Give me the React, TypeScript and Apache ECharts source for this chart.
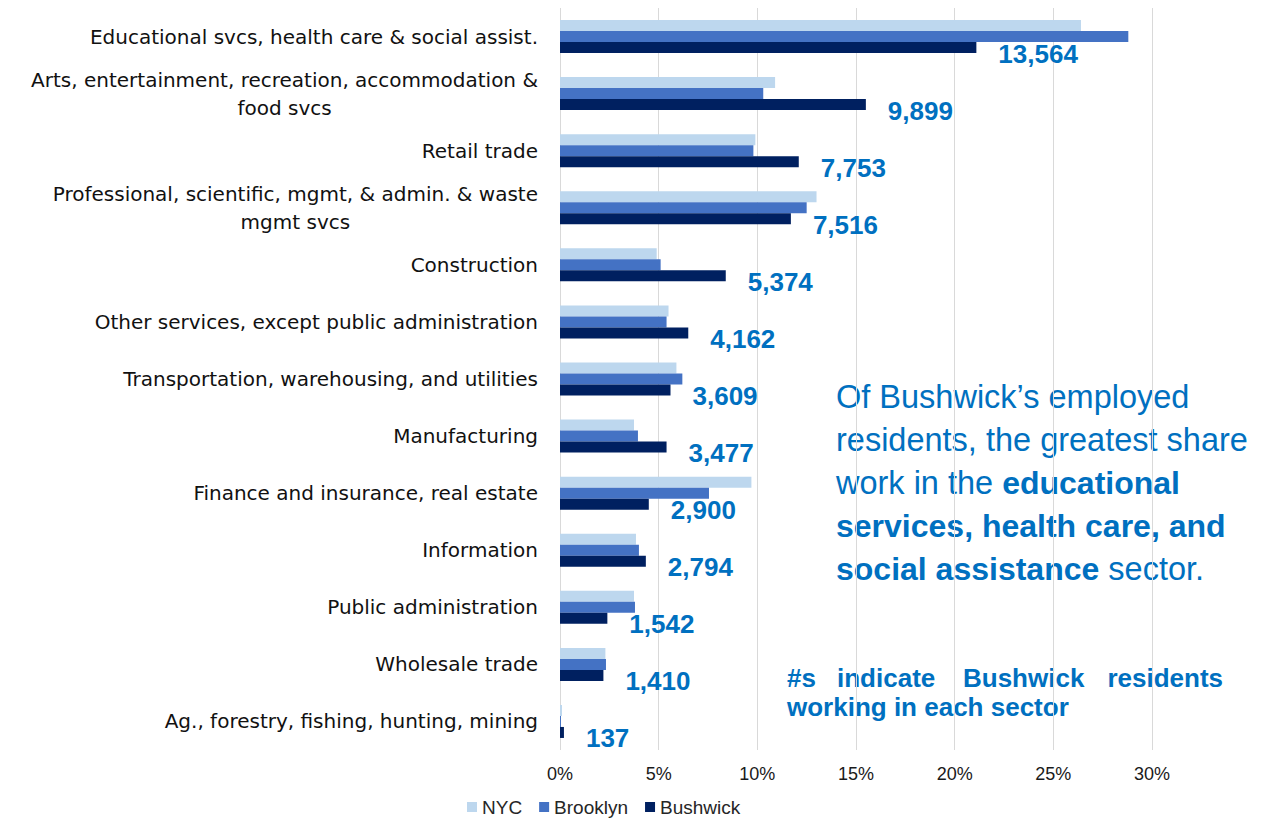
import React, { useEffect, useRef } from "react";
import * as echarts from "echarts";

const categories = [
  "Educational svcs, health care & social assist.",
  "Arts, entertainment, recreation, accommodation &\nfood svcs",
  "Retail trade",
  "Professional, scientific, mgmt, & admin. & waste\nmgmt svcs",
  "Construction",
  "Other services, except public administration",
  "Transportation, warehousing, and utilities",
  "Manufacturing",
  "Finance and insurance, real estate",
  "Information",
  "Public administration",
  "Wholesale trade",
  "Ag., forestry, fishing, hunting, mining",
];

const nycShare = [26.4, 10.9, 9.9, 13.0, 4.9, 5.5, 5.9, 3.75, 9.7, 3.85, 3.75, 2.3, 0.1];
const brooklynShare = [28.8, 10.3, 9.8, 12.5, 5.1, 5.4, 6.2, 3.95, 7.55, 4.0, 3.8, 2.33, 0.05];
const bushwickShare = [21.1, 15.5, 12.1, 11.7, 8.4, 6.5, 5.6, 5.4, 4.5, 4.35, 2.4, 2.2, 0.2];
const bushwickCounts = [13564, 9899, 7753, 7516, 5374, 4162, 3609, 3477, 2900, 2794, 1542, 1410, 137];

const seriesNames = ["NYC", "Brooklyn", "Bushwick"];
const xTicks = { min: 0, max: 30, interval: 5 };

const FONT = "'Liberation Sans', Arial, sans-serif";
const CAT_FONT = "'DejaVu Sans', 'Liberation Sans', sans-serif";
const BLUE = "#0070C0";

export default function App() {
  const ref = useRef<HTMLDivElement>(null);
  useEffect(() => {
    if (!ref.current) return;
    const chart = echarts.init(ref.current, undefined, { renderer: "svg" });
    const fmtCount = (n: number) => n.toLocaleString("en-US");
    const noteStyle = (text: string, align: string) => ({
      text,
      fill: BLUE,
      fontSize: 26,
      fontWeight: "bold",
      fontFamily: FONT,
      verticalAlign: "middle",
      align,
    });
    chart.setOption({
      animation: false,
      textStyle: { fontFamily: FONT },
      grid: { left: 560, right: 109, top: 8, bottom: 72, containLabel: false },
      legend: {
        data: seriesNames,
        left: 467,
        top: 797,
        padding: 0,
        icon: "rect",
        itemWidth: 10,
        itemHeight: 10,
        itemGap: 17,
        textStyle: { fontSize: 19, lineHeight: 20, color: "#262626", fontFamily: FONT },
      },
      xAxis: {
        type: "value",
        min: xTicks.min,
        max: xTicks.max,
        interval: xTicks.interval,
        axisLine: { show: false },
        axisTick: { show: false },
        splitLine: { show: true, lineStyle: { color: "#D9D9D9", width: 1 } },
        axisLabel: {
          formatter: "{value}%",
          fontSize: 18,
          color: "#1a1a1a",
          margin: 15,
          fontFamily: FONT,
        },
      },
      yAxis: {
        type: "category",
        inverse: true,
        data: categories,
        axisLine: { show: false },
        axisTick: { show: false },
        axisLabel: {
          fontSize: 20,
          color: "#111111",
          margin: 22,
          lineHeight: 28,
          fontFamily: CAT_FONT,
          formatter: (v: string) => {
            const parts = v.split("\n");
            if (parts.length === 1) return v;
            return parts[0] + "\n{c|" + parts[1] + "}";
          },
          rich: {
            c: { align: "center", fontSize: 20, lineHeight: 28, color: "#111111", fontFamily: CAT_FONT },
          },
        },
      },
      series: [
        {
          name: seriesNames[0],
          type: "bar",
          data: nycShare,
          barWidth: 11,
          barGap: "0%",
          itemStyle: { color: "#BDD7EE" },
        },
        {
          name: seriesNames[1],
          type: "bar",
          data: brooklynShare,
          barWidth: 11,
          barGap: "0%",
          itemStyle: { color: "#4472C4" },
        },
        {
          name: seriesNames[2],
          type: "bar",
          data: bushwickShare,
          barWidth: 11,
          barGap: "0%",
          itemStyle: { color: "#002060" },
          label: {
            show: true,
            position: "right",
            distance: 22,
            offset: [0, 6],
            fontSize: 26,
            fontWeight: "bold",
            color: BLUE,
            fontFamily: FONT,
            formatter: (p: any) => fmtCount(bushwickCounts[p.dataIndex]),
          },
        },
      ],
      graphic: [
        {
          type: "text",
          left: 836,
          top: 375,
          style: {
            text:
              "Of Bushwick’s employed\nresidents, the greatest share\nwork in the {b|educational}\n{b|services, health care, and}\n{b|social assistance} sector.",
            fill: BLUE,
            fontSize: 32.5,
            fontFamily: FONT,
            lineHeight: 43,
            rich: {
              b: { fontWeight: "bold", fontSize: 32, fill: BLUE, fontFamily: FONT, lineHeight: 43 },
            },
          },
        },
        { type: "text", x: 787, y: 678, style: noteStyle("#s", "left") },
        { type: "text", x: 837, y: 678, style: noteStyle("indicate", "left") },
        { type: "text", x: 963, y: 678, style: noteStyle("Bushwick", "left") },
        { type: "text", x: 1223, y: 678, style: noteStyle("residents", "right") },
        { type: "text", x: 787, y: 707, style: noteStyle("working in each sector", "left") },
      ],
    });
    return () => chart.dispose();
  }, []);
  return <div ref={ref} style={{ width: 1261, height: 822, position: "absolute", left: 0, top: 0 }} />;
}
